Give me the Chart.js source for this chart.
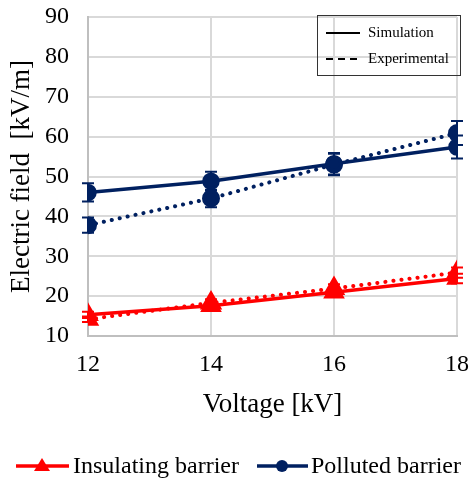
<!DOCTYPE html>
<html>
<head>
<meta charset="utf-8">
<script src="https://cdn.jsdelivr.net/npm/chart.js@4/dist/chart.umd.min.js"></script>
<style>
html,body{margin:0;padding:0;background:#fff;}
#wrap{width:470px;height:486px;}
</style>
</head>
<body>
<div id="wrap"><canvas id="c" width="470" height="486"></canvas></div>
<script>
const voltages = [12, 14, 16, 18];
const insulatingSim = [15.3, 17.6, 21.0, 24.4];
const insulatingExp = [14.2, 18.3, 21.9, 25.9];
const insulatingSimErr = [0.8, 0.9, 1.1, 1.2];
const insulatingExpErr = [0.7, 0.9, 1.1, 1.3];
const pollutedSim = [46.0, 48.8, 53.2, 57.4];
const pollutedExp = [37.8, 44.5, 53.0, 60.9];
const pollutedSimErr = [2.3, 2.4, 2.7, 2.9];
const pollutedExpErr = [1.9, 2.2, 2.7, 3.0];
const yTicks = [10, 20, 30, 40, 50, 60, 70, 80, 90];
const xTicks = [12, 14, 16, 18];

const RED = '#ff0000';
const NAVY = '#002060';
const SERIF = '"Liberation Serif", "Times New Roman", serif';

function pts(arr) { return voltages.map((v, i) => ({x: v, y: arr[i]})); }

const datasets = [
  {label: 'Insulating barrier', data: pts(insulatingSim), err: insulatingSimErr, borderColor: RED, backgroundColor: RED,
   borderWidth: 3.5, pointStyle: 'triangle', pointRadius: 9, pointHoverRadius: 9, tension: 0},
  {label: 'Insulating exp', data: pts(insulatingExp), err: insulatingExpErr, borderColor: RED, backgroundColor: RED,
   borderWidth: 4, borderDash: [0.1, 8], borderCapStyle: 'round', pointStyle: 'triangle', pointRadius: 9, pointHoverRadius: 9, tension: 0},
  {label: 'Polluted barrier', data: pts(pollutedSim), err: pollutedSimErr, borderColor: NAVY, backgroundColor: NAVY,
   borderWidth: 3.5, pointStyle: 'circle', pointRadius: 7, pointHoverRadius: 7, tension: 0},
  {label: 'Polluted exp', data: pts(pollutedExp), err: pollutedExpErr, borderColor: NAVY, backgroundColor: NAVY,
   borderWidth: 4, borderDash: [0.1, 8], borderCapStyle: 'round', pointStyle: 'circle', pointRadius: 7, pointHoverRadius: 7, tension: 0}
];

const errorBars = {
  id: 'errorBars',
  beforeDatasetsDraw(chart) {
    const ctx = chart.ctx, xs = chart.scales.x, ys = chart.scales.y;
    chart.data.datasets.forEach(ds => {
      ctx.save();
      ctx.strokeStyle = ds.borderColor;
      ctx.lineWidth = 2;
      ds.data.forEach((p, i) => {
        const px = xs.getPixelForValue(p.x);
        const top = ys.getPixelForValue(p.y + ds.err[i]);
        const bot = ys.getPixelForValue(p.y - ds.err[i]);
        ctx.beginPath();
        ctx.moveTo(px, top); ctx.lineTo(px, bot);
        ctx.moveTo(px - 6, top); ctx.lineTo(px + 6, top);
        ctx.moveTo(px - 6, bot); ctx.lineTo(px + 6, bot);
        ctx.stroke();
      });
      ctx.restore();
    });
  }
};

const legends = {
  id: 'legends',
  afterDraw(chart) {
    const ctx = chart.ctx;
    ctx.save();
    // inner legend box
    ctx.strokeStyle = '#333';
    ctx.lineWidth = 1;
    ctx.strokeRect(317.5, 15.5, 143, 60);
    ctx.strokeStyle = '#000';
    ctx.lineWidth = 2;
    ctx.beginPath(); ctx.moveTo(326, 33); ctx.lineTo(360, 33); ctx.stroke();
    ctx.setLineDash([7, 5]);
    ctx.beginPath(); ctx.moveTo(326, 59); ctx.lineTo(360, 59); ctx.stroke();
    ctx.setLineDash([]);
    ctx.fillStyle = '#000';
    ctx.font = '15px ' + SERIF;
    ctx.textBaseline = 'middle';
    ctx.textAlign = 'left';
    ctx.fillText('Simulation', 368, 33);
    ctx.fillText('Experimental', 368, 59);

    // bottom legend
    const ly = 466;
    ctx.lineWidth = 3.5;
    ctx.strokeStyle = RED; ctx.fillStyle = RED;
    ctx.beginPath(); ctx.moveTo(16, ly); ctx.lineTo(69, ly); ctx.stroke();
    ctx.beginPath(); ctx.moveTo(42, ly - 8); ctx.lineTo(50, ly + 5); ctx.lineTo(34, ly + 5); ctx.closePath(); ctx.fill();
    ctx.strokeStyle = NAVY; ctx.fillStyle = NAVY;
    ctx.beginPath(); ctx.moveTo(257, ly); ctx.lineTo(308, ly); ctx.stroke();
    ctx.beginPath(); ctx.arc(282, ly, 6, 0, Math.PI * 2); ctx.fill();
    ctx.fillStyle = '#000';
    ctx.font = '24px ' + SERIF;
    ctx.fillText('Insulating barrier', 73, ly + 1);
    ctx.fillText('Polluted barrier', 311, ly + 1);
    ctx.restore();
  }
};

new Chart(document.getElementById('c'), {
  type: 'line',
  data: {datasets},
  plugins: [errorBars, legends],
  options: {
    responsive: false,
    animation: false,
    events: [],
    layout: {padding: {top: 17, right: 10, bottom: 64, left: 0}},
    plugins: {legend: {display: false}, tooltip: {enabled: false}},
    scales: {
      x: {
        type: 'linear', min: 12, max: 18,
        afterFit(s) { s.height = 86; s.paddingLeft = 0; s.paddingRight = 0; },
        afterBuildTicks(s) { s.ticks = xTicks.map(v => ({value: v})); },
        grid: {color: '#d9d9d9', lineWidth: 2, drawTicks: false},
        border: {color: '#bfbfbf', width: 2},
        ticks: {color: '#000', font: {family: SERIF, size: 24}, padding: 14, maxRotation: 0},
        title: {display: true, text: 'Voltage [kV]', color: '#000', font: {family: SERIF, size: 27}, padding: {top: 0, bottom: 1}}
      },
      y: {
        min: 10, max: 90,
        afterFit(s) { s.width = 88; s.paddingTop = 0; s.paddingBottom = 0; },
        afterBuildTicks(s) { s.ticks = yTicks.map(v => ({value: v})); },
        grid: {color: '#d9d9d9', lineWidth: 2, drawTicks: false},
        border: {color: '#bfbfbf', width: 2},
        ticks: {color: '#000', font: {family: SERIF, size: 24}, padding: 19},
        title: {display: true, text: 'Electric field  [kV/m]', color: '#000', font: {family: SERIF, size: 27}, padding: {top: 6, bottom: 0}}
      }
    }
  }
});
</script>
</body>
</html>
